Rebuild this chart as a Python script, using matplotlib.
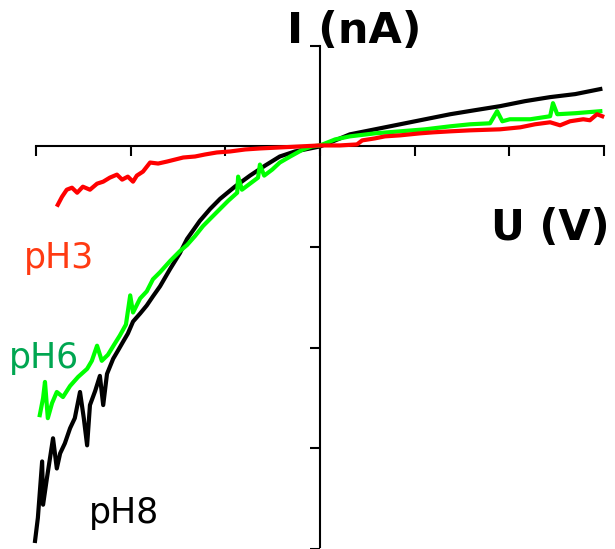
import matplotlib
matplotlib.use("Agg")
import matplotlib.pyplot as plt

# Courbes I(U) pour trois pH
u_ph8 = [-0.602, -0.596, -0.587, -0.585, -0.577, -0.564, -0.556, -0.549, -0.539, -0.528,
         -0.518, -0.507, -0.499, -0.492, -0.486, -0.475, -0.465, -0.458, -0.450, -0.437,
         -0.427, -0.416, -0.406, -0.395, -0.380, -0.366, -0.353, -0.338, -0.317, -0.296,
         -0.281, -0.254, -0.232, -0.211, -0.180, -0.148, -0.116, -0.085, -0.053, -0.021,
         0.0, 0.032, 0.063, 0.116, 0.169, 0.222, 0.275, 0.327, 0.380, 0.433,
         0.486, 0.539, 0.592]
i_ph8 = [-3.92, -3.69, -3.13, -3.56, -3.30, -2.90, -3.20, -3.05, -2.95, -2.80,
         -2.70, -2.44, -2.70, -2.97, -2.57, -2.43, -2.28, -2.57, -2.26, -2.11,
         -2.03, -1.94, -1.86, -1.74, -1.66, -1.58, -1.49, -1.39, -1.22, -1.06,
         -0.92, -0.74, -0.62, -0.52, -0.40, -0.29, -0.19, -0.10, -0.05, -0.02,
         0.0, 0.06, 0.12, 0.17, 0.22, 0.27, 0.32, 0.36, 0.40, 0.45,
         0.49, 0.52, 0.57]

u_ph6 = [-0.592, -0.585, -0.581, -0.575, -0.566, -0.556, -0.543, -0.528, -0.511, -0.492,
         -0.482, -0.471, -0.461, -0.448, -0.435, -0.423, -0.410, -0.401, -0.395, -0.380,
         -0.366, -0.353, -0.338, -0.317, -0.296, -0.281, -0.264, -0.247, -0.228, -0.211,
         -0.194, -0.175, -0.173, -0.165, -0.148, -0.131, -0.127, -0.118, -0.101, -0.085,
         -0.063, -0.036, -0.017, 0.0, 0.032, 0.063, 0.116, 0.169, 0.222, 0.275,
         0.317, 0.359, 0.374, 0.385, 0.401, 0.444, 0.486, 0.492, 0.501, 0.539, 0.592]
i_ph6 = [-2.67, -2.50, -2.34, -2.70, -2.55, -2.44, -2.49, -2.38, -2.29, -2.21,
         -2.13, -1.98, -2.13, -2.07, -1.97, -1.88, -1.77, -1.48, -1.65, -1.51,
         -1.44, -1.32, -1.25, -1.14, -1.04, -0.98, -0.89, -0.79, -0.70, -0.62,
         -0.54, -0.46, -0.30, -0.43, -0.37, -0.31, -0.18, -0.29, -0.23, -0.16,
         -0.10, -0.03, 0.00, 0.01, 0.07, 0.10, 0.13, 0.15, 0.17, 0.20,
         0.22, 0.23, 0.35, 0.25, 0.27, 0.27, 0.30, 0.43, 0.32, 0.33, 0.35]

u_ph3 = [-0.554, -0.545, -0.535, -0.524, -0.513, -0.501, -0.486, -0.471, -0.458, -0.444,
         -0.429, -0.418, -0.406, -0.395, -0.387, -0.374, -0.359, -0.342, -0.323, -0.306,
         -0.289, -0.264, -0.243, -0.218, -0.190, -0.158, -0.127, -0.085, -0.042, 0.0,
         0.042, 0.078, 0.089, 0.116, 0.137, 0.169, 0.211, 0.239, 0.275, 0.317,
         0.380, 0.423, 0.454, 0.486, 0.507, 0.528, 0.556, 0.570, 0.585, 0.596]
i_ph3 = [-0.58, -0.50, -0.43, -0.41, -0.46, -0.40, -0.43, -0.37, -0.35, -0.31,
         -0.28, -0.33, -0.30, -0.35, -0.29, -0.25, -0.16, -0.17, -0.15, -0.13,
         -0.11, -0.10, -0.08, -0.06, -0.05, -0.03, -0.02, -0.01, 0.00, 0.01,
         0.01, 0.02, 0.06, 0.08, 0.10, 0.11, 0.13, 0.14, 0.15, 0.16,
         0.17, 0.19, 0.22, 0.24, 0.21, 0.25, 0.27, 0.26, 0.32, 0.30]

x_ticks = [-0.6, -0.4, -0.2, 0.0, 0.2, 0.4, 0.6]
y_ticks = [-4, -3, -2, -1, 1]

fig = plt.figure(figsize=(6.15, 5.49), dpi=100)
ax = fig.add_axes([0, 0, 1, 1])

ax.plot(u_ph8, i_ph8, color='black', lw=3, zorder=3)
ax.plot(u_ph6, i_ph6, color='#00ff00', lw=3, zorder=4)
ax.plot(u_ph3, i_ph3, color='#ff0000', lw=3, zorder=5)

ax.set_xlim(-0.676, 0.623)
ax.set_ylim(-3.985, 1.455)

# axes qui se croisent en (0, 0)
ax.spines['left'].set_position(('data', 0))
ax.spines['bottom'].set_position(('data', 0))
ax.spines['top'].set_visible(False)
ax.spines['right'].set_visible(False)
ax.spines['bottom'].set_bounds(-0.6, 0.6)
ax.spines['left'].set_bounds(-3.985, 1.0)
for s in ['left', 'bottom']:
    ax.spines[s].set_linewidth(1.5)

ax.set_xticks(x_ticks)
ax.set_yticks(y_ticks)
ax.tick_params(axis='both', direction='out', length=7, width=1.5,
               labelbottom=False, labelleft=False)

fig.text(287/615, 1 - 43/549, 'I (nA)', fontsize=31, fontweight='bold',
         ha='left', va='baseline')
fig.text(491/615, 1 - 240/549, 'U (V)', fontsize=30, fontweight='bold',
         ha='left', va='baseline')
fig.text(24/615, 1 - 268/549, 'pH3', fontsize=25, color='#ff3a12',
         ha='left', va='baseline')
fig.text(9/615, 1 - 368/549, 'pH6', fontsize=25, color='#00a651',
         ha='left', va='baseline')
fig.text(89/615, 1 - 523/549, 'pH8', fontsize=25, color='black',
         ha='left', va='baseline')

fig.savefig('out.png', dpi=100)
